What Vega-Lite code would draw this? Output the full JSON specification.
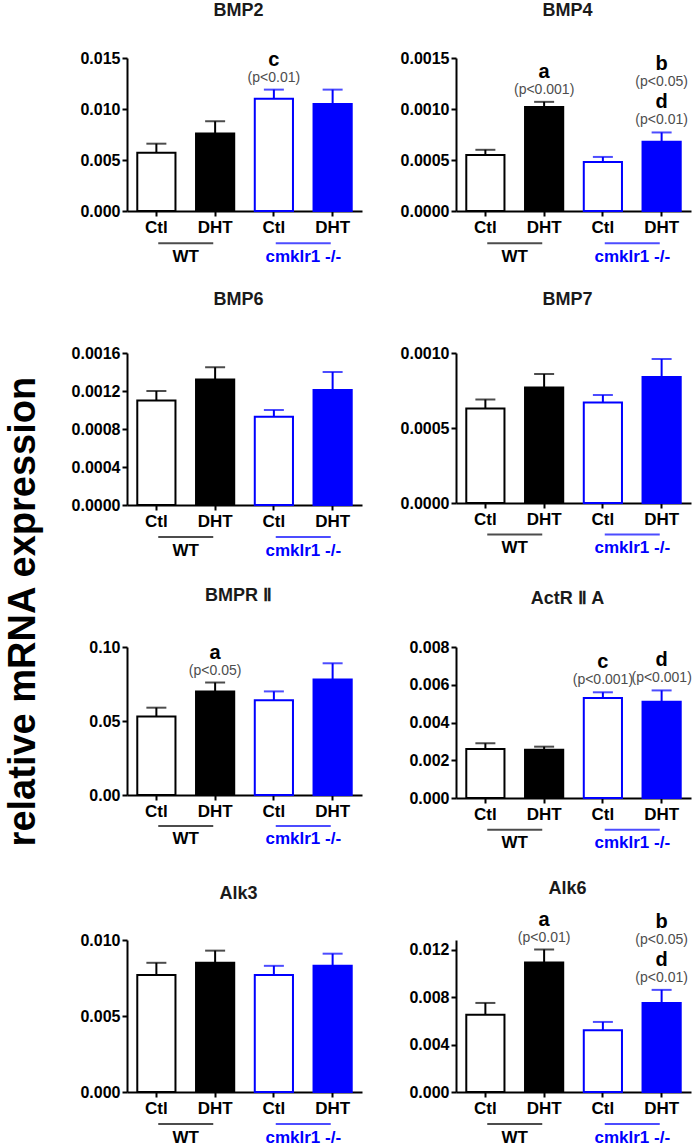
{
  "$schema": "https://vega.github.io/schema/vega-lite/v6.json",
  "padding": {"left": 5, "top": 1, "right": 2, "bottom": 2},
  "title": {"text": "relative mRNA expression", "orient": "left", "anchor": "middle", "fontSize": 38, "fontWeight": "bold", "color": "#000000", "offset": 28, "dx": -38, "frame": "bounds"},
  "columns": 2,
  "spacing": {"row": 142, "column": 94},
  "bounds": "flush",
  "datasets": {
    "bars": [
      {"gene": "BMP2", "genotype": "WT", "key": "WT Ctl", "mean": 0.0057, "hi": 0.0066},
      {"gene": "BMP2", "genotype": "WT", "key": "WT DHT", "mean": 0.0076, "hi": 0.0088},
      {"gene": "BMP2", "genotype": "KO", "key": "KO Ctl", "mean": 0.0110, "hi": 0.0119, "l1": "c", "p1": "(p<0.01)"},
      {"gene": "BMP2", "genotype": "KO", "key": "KO DHT", "mean": 0.0105, "hi": 0.0119},
      {"gene": "BMP4", "genotype": "WT", "key": "WT Ctl", "mean": 0.00055, "hi": 0.00060},
      {"gene": "BMP4", "genotype": "WT", "key": "WT DHT", "mean": 0.00102, "hi": 0.00107, "l1": "a", "p1": "(p<0.001)"},
      {"gene": "BMP4", "genotype": "KO", "key": "KO Ctl", "mean": 0.00048, "hi": 0.00053},
      {"gene": "BMP4", "genotype": "KO", "key": "KO DHT", "mean": 0.00068, "hi": 0.00077, "l1": "d", "p1": "(p<0.01)", "l2": "b", "p2": "(p<0.05)"},
      {"gene": "BMP6", "genotype": "WT", "key": "WT Ctl", "mean": 0.00110, "hi": 0.00120},
      {"gene": "BMP6", "genotype": "WT", "key": "WT DHT", "mean": 0.00132, "hi": 0.00145},
      {"gene": "BMP6", "genotype": "KO", "key": "KO Ctl", "mean": 0.00093, "hi": 0.00100},
      {"gene": "BMP6", "genotype": "KO", "key": "KO DHT", "mean": 0.00121, "hi": 0.00140},
      {"gene": "BMP7", "genotype": "WT", "key": "WT Ctl", "mean": 0.00063, "hi": 0.00069},
      {"gene": "BMP7", "genotype": "WT", "key": "WT DHT", "mean": 0.00077, "hi": 0.00086},
      {"gene": "BMP7", "genotype": "KO", "key": "KO Ctl", "mean": 0.00067, "hi": 0.00072},
      {"gene": "BMP7", "genotype": "KO", "key": "KO DHT", "mean": 0.00084, "hi": 0.00096},
      {"gene": "BMPRII", "genotype": "WT", "key": "WT Ctl", "mean": 0.053, "hi": 0.059},
      {"gene": "BMPRII", "genotype": "WT", "key": "WT DHT", "mean": 0.070, "hi": 0.076, "l1": "a", "p1": "(p<0.05)"},
      {"gene": "BMPRII", "genotype": "KO", "key": "KO Ctl", "mean": 0.064, "hi": 0.070},
      {"gene": "BMPRII", "genotype": "KO", "key": "KO DHT", "mean": 0.078, "hi": 0.089},
      {"gene": "ActRIIA", "genotype": "WT", "key": "WT Ctl", "mean": 0.0026, "hi": 0.0029},
      {"gene": "ActRIIA", "genotype": "WT", "key": "WT DHT", "mean": 0.00255, "hi": 0.00272},
      {"gene": "ActRIIA", "genotype": "KO", "key": "KO Ctl", "mean": 0.0053, "hi": 0.0056, "l1": "c", "p1": "(p<0.001)"},
      {"gene": "ActRIIA", "genotype": "KO", "key": "KO DHT", "mean": 0.0051, "hi": 0.0057, "l1": "d", "p1": "(p<0.001)"},
      {"gene": "Alk3", "genotype": "WT", "key": "WT Ctl", "mean": 0.0077, "hi": 0.0085},
      {"gene": "Alk3", "genotype": "WT", "key": "WT DHT", "mean": 0.0085, "hi": 0.0093},
      {"gene": "Alk3", "genotype": "KO", "key": "KO Ctl", "mean": 0.0077, "hi": 0.0083},
      {"gene": "Alk3", "genotype": "KO", "key": "KO DHT", "mean": 0.0083, "hi": 0.0091},
      {"gene": "Alk6", "genotype": "WT", "key": "WT Ctl", "mean": 0.0065, "hi": 0.0075},
      {"gene": "Alk6", "genotype": "WT", "key": "WT DHT", "mean": 0.0109, "hi": 0.0120, "l1": "a", "p1": "(p<0.01)"},
      {"gene": "Alk6", "genotype": "KO", "key": "KO Ctl", "mean": 0.0052, "hi": 0.0059},
      {"gene": "Alk6", "genotype": "KO", "key": "KO DHT", "mean": 0.0075, "hi": 0.0086, "l1": "d", "p1": "(p<0.01)", "l2": "b", "p2": "(p<0.05)"}
    ],
    "groups": [
      {"group": "WT"},
      {"group": "cmklr1 -/-"}
    ]
  },
  "concat": [
    {
      "width": 235, "height": 153,
      "title": {"text": "BMP2", "offset": 30},
      "resolve": {"scale": {"x": "independent", "y": "independent", "color": "independent"}},
      "layer": [
        {
          "data": {"name": "bars"},
          "transform": [{"filter": "datum.gene === 'BMP2'"}],
          "encoding": {"x": {"field": "key", "type": "nominal", "sort": ["WT Ctl", "WT DHT", "KO Ctl", "KO DHT"], "scale": {"paddingInner": 0.35, "paddingOuter": 0.175}, "axis": {"title": null, "labelExpr": "indexof(datum.label, 'DHT') >= 0 ? 'DHT' : 'Ctl'"}}},
          "layer": [
            {"mark": {"type": "bar", "strokeWidth": 2}, "encoding": {"y": {"field": "mean", "type": "quantitative", "scale": {"domain": [0, 0.015], "nice": false}, "axis": {"title": null, "values": [0, 0.005, 0.01, 0.015], "format": ".3f", "tickCount": 10}}, "fill": {"field": "key", "type": "nominal", "scale": {"domain": ["WT Ctl", "WT DHT", "KO Ctl", "KO DHT"], "range": ["#ffffff", "#000000", "#ffffff", "#0000ff"]}, "legend": null}, "stroke": {"field": "genotype", "type": "nominal", "scale": {"domain": ["WT", "KO"], "range": ["#000000", "#0000ff"]}, "legend": null}}},
            {"mark": {"type": "rule", "strokeWidth": 2}, "encoding": {"y": {"field": "mean", "type": "quantitative"}, "y2": {"field": "hi"}, "stroke": {"field": "genotype", "type": "nominal", "legend": null}}},
            {"mark": {"type": "tick", "orient": "horizontal", "size": 20, "thickness": 2}, "encoding": {"y": {"field": "hi", "type": "quantitative"}, "color": {"field": "genotype", "type": "nominal", "scale": {"domain": ["WT", "KO"], "range": ["#000000", "#0000ff"]}, "legend": null}}},
            {"transform": [{"filter": "datum.l1"}], "mark": {"type": "text", "fontSize": 20, "fontWeight": "bold", "baseline": "alphabetic", "dy": -24, "color": "#000000"}, "encoding": {"y": {"field": "hi", "type": "quantitative"}, "text": {"field": "l1"}}},
            {"transform": [{"filter": "datum.p1"}], "mark": {"type": "text", "fontSize": 14, "baseline": "alphabetic", "dy": -8, "color": "#4d4d4d"}, "encoding": {"y": {"field": "hi", "type": "quantitative"}, "text": {"field": "p1"}}}
          ]
        },
        {
          "data": {"name": "groups"},
          "encoding": {"x": {"field": "group", "type": "nominal", "sort": ["WT", "cmklr1 -/-"], "scale": {"type": "point", "padding": 0.5}, "axis": null}, "color": {"field": "group", "type": "nominal", "scale": {"domain": ["WT", "cmklr1 -/-"], "range": ["#000000", "#0000ff"]}, "legend": null}},
          "layer": [
            {"mark": {"type": "tick", "orient": "horizontal", "size": 55, "thickness": 2}, "encoding": {"y": {"datum": -0.21, "type": "quantitative", "scale": {"domain": [0, 1]}, "axis": null}}},
            {"mark": {"type": "text", "fontSize": 17, "fontWeight": "bold", "baseline": "middle"}, "encoding": {"y": {"datum": -0.3, "type": "quantitative"}, "text": {"field": "group"}, "fontStyle": {"condition": {"test": "datum.group !== 'WT'", "value": "italic"}, "value": "normal"}}}
          ]
        }
      ]
    },
    {
      "width": 235, "height": 153,
      "title": {"text": "BMP4", "offset": 30},
      "resolve": {"scale": {"x": "independent", "y": "independent", "color": "independent"}},
      "layer": [
        {
          "data": {"name": "bars"},
          "transform": [{"filter": "datum.gene === 'BMP4'"}],
          "encoding": {"x": {"field": "key", "type": "nominal", "sort": ["WT Ctl", "WT DHT", "KO Ctl", "KO DHT"], "scale": {"paddingInner": 0.35, "paddingOuter": 0.175}, "axis": {"title": null, "labelExpr": "indexof(datum.label, 'DHT') >= 0 ? 'DHT' : 'Ctl'"}}},
          "layer": [
            {"mark": {"type": "bar", "strokeWidth": 2}, "encoding": {"y": {"field": "mean", "type": "quantitative", "scale": {"domain": [0, 0.0015], "nice": false}, "axis": {"title": null, "values": [0, 0.0005, 0.001, 0.0015], "format": ".4f", "tickCount": 10}}, "fill": {"field": "key", "type": "nominal", "scale": {"domain": ["WT Ctl", "WT DHT", "KO Ctl", "KO DHT"], "range": ["#ffffff", "#000000", "#ffffff", "#0000ff"]}, "legend": null}, "stroke": {"field": "genotype", "type": "nominal", "scale": {"domain": ["WT", "KO"], "range": ["#000000", "#0000ff"]}, "legend": null}}},
            {"mark": {"type": "rule", "strokeWidth": 2}, "encoding": {"y": {"field": "mean", "type": "quantitative"}, "y2": {"field": "hi"}, "stroke": {"field": "genotype", "type": "nominal", "legend": null}}},
            {"mark": {"type": "tick", "orient": "horizontal", "size": 20, "thickness": 2}, "encoding": {"y": {"field": "hi", "type": "quantitative"}, "color": {"field": "genotype", "type": "nominal", "scale": {"domain": ["WT", "KO"], "range": ["#000000", "#0000ff"]}, "legend": null}}},
            {"transform": [{"filter": "datum.l1"}], "mark": {"type": "text", "fontSize": 20, "fontWeight": "bold", "baseline": "alphabetic", "dy": -24, "color": "#000000"}, "encoding": {"y": {"field": "hi", "type": "quantitative"}, "text": {"field": "l1"}}},
            {"transform": [{"filter": "datum.p1"}], "mark": {"type": "text", "fontSize": 14, "baseline": "alphabetic", "dy": -8, "color": "#4d4d4d"}, "encoding": {"y": {"field": "hi", "type": "quantitative"}, "text": {"field": "p1"}}},
            {"transform": [{"filter": "datum.l2"}], "mark": {"type": "text", "fontSize": 20, "fontWeight": "bold", "baseline": "alphabetic", "dy": -62, "color": "#000000"}, "encoding": {"y": {"field": "hi", "type": "quantitative"}, "text": {"field": "l2"}}},
            {"transform": [{"filter": "datum.p2"}], "mark": {"type": "text", "fontSize": 14, "baseline": "alphabetic", "dy": -46, "color": "#4d4d4d"}, "encoding": {"y": {"field": "hi", "type": "quantitative"}, "text": {"field": "p2"}}}
          ]
        },
        {
          "data": {"name": "groups"},
          "encoding": {"x": {"field": "group", "type": "nominal", "sort": ["WT", "cmklr1 -/-"], "scale": {"type": "point", "padding": 0.5}, "axis": null}, "color": {"field": "group", "type": "nominal", "scale": {"domain": ["WT", "cmklr1 -/-"], "range": ["#000000", "#0000ff"]}, "legend": null}},
          "layer": [
            {"mark": {"type": "tick", "orient": "horizontal", "size": 55, "thickness": 2}, "encoding": {"y": {"datum": -0.21, "type": "quantitative", "scale": {"domain": [0, 1]}, "axis": null}}},
            {"mark": {"type": "text", "fontSize": 17, "fontWeight": "bold", "baseline": "middle"}, "encoding": {"y": {"datum": -0.3, "type": "quantitative"}, "text": {"field": "group"}, "fontStyle": {"condition": {"test": "datum.group !== 'WT'", "value": "italic"}, "value": "normal"}}}
          ]
        }
      ]
    },
    {
      "width": 235, "height": 152,
      "title": {"text": "BMP6", "offset": 36},
      "resolve": {"scale": {"x": "independent", "y": "independent", "color": "independent"}},
      "layer": [
        {
          "data": {"name": "bars"},
          "transform": [{"filter": "datum.gene === 'BMP6'"}],
          "encoding": {"x": {"field": "key", "type": "nominal", "sort": ["WT Ctl", "WT DHT", "KO Ctl", "KO DHT"], "scale": {"paddingInner": 0.35, "paddingOuter": 0.175}, "axis": {"title": null, "labelExpr": "indexof(datum.label, 'DHT') >= 0 ? 'DHT' : 'Ctl'"}}},
          "layer": [
            {"mark": {"type": "bar", "strokeWidth": 2}, "encoding": {"y": {"field": "mean", "type": "quantitative", "scale": {"domain": [0, 0.0016], "nice": false}, "axis": {"title": null, "values": [0, 0.0004, 0.0008, 0.0012, 0.0016], "format": ".4f", "tickCount": 10}}, "fill": {"field": "key", "type": "nominal", "scale": {"domain": ["WT Ctl", "WT DHT", "KO Ctl", "KO DHT"], "range": ["#ffffff", "#000000", "#ffffff", "#0000ff"]}, "legend": null}, "stroke": {"field": "genotype", "type": "nominal", "scale": {"domain": ["WT", "KO"], "range": ["#000000", "#0000ff"]}, "legend": null}}},
            {"mark": {"type": "rule", "strokeWidth": 2}, "encoding": {"y": {"field": "mean", "type": "quantitative"}, "y2": {"field": "hi"}, "stroke": {"field": "genotype", "type": "nominal", "legend": null}}},
            {"mark": {"type": "tick", "orient": "horizontal", "size": 20, "thickness": 2}, "encoding": {"y": {"field": "hi", "type": "quantitative"}, "color": {"field": "genotype", "type": "nominal", "scale": {"domain": ["WT", "KO"], "range": ["#000000", "#0000ff"]}, "legend": null}}}
          ]
        },
        {
          "data": {"name": "groups"},
          "encoding": {"x": {"field": "group", "type": "nominal", "sort": ["WT", "cmklr1 -/-"], "scale": {"type": "point", "padding": 0.5}, "axis": null}, "color": {"field": "group", "type": "nominal", "scale": {"domain": ["WT", "cmklr1 -/-"], "range": ["#000000", "#0000ff"]}, "legend": null}},
          "layer": [
            {"mark": {"type": "tick", "orient": "horizontal", "size": 55, "thickness": 2}, "encoding": {"y": {"datum": -0.21, "type": "quantitative", "scale": {"domain": [0, 1]}, "axis": null}}},
            {"mark": {"type": "text", "fontSize": 17, "fontWeight": "bold", "baseline": "middle"}, "encoding": {"y": {"datum": -0.3, "type": "quantitative"}, "text": {"field": "group"}, "fontStyle": {"condition": {"test": "datum.group !== 'WT'", "value": "italic"}, "value": "normal"}}}
          ]
        }
      ]
    },
    {
      "width": 235, "height": 150,
      "title": {"text": "BMP7", "offset": 36},
      "resolve": {"scale": {"x": "independent", "y": "independent", "color": "independent"}},
      "layer": [
        {
          "data": {"name": "bars"},
          "transform": [{"filter": "datum.gene === 'BMP7'"}],
          "encoding": {"x": {"field": "key", "type": "nominal", "sort": ["WT Ctl", "WT DHT", "KO Ctl", "KO DHT"], "scale": {"paddingInner": 0.35, "paddingOuter": 0.175}, "axis": {"title": null, "labelExpr": "indexof(datum.label, 'DHT') >= 0 ? 'DHT' : 'Ctl'"}}},
          "layer": [
            {"mark": {"type": "bar", "strokeWidth": 2}, "encoding": {"y": {"field": "mean", "type": "quantitative", "scale": {"domain": [0, 0.001], "nice": false}, "axis": {"title": null, "values": [0, 0.0005, 0.001], "format": ".4f", "tickCount": 10}}, "fill": {"field": "key", "type": "nominal", "scale": {"domain": ["WT Ctl", "WT DHT", "KO Ctl", "KO DHT"], "range": ["#ffffff", "#000000", "#ffffff", "#0000ff"]}, "legend": null}, "stroke": {"field": "genotype", "type": "nominal", "scale": {"domain": ["WT", "KO"], "range": ["#000000", "#0000ff"]}, "legend": null}}},
            {"mark": {"type": "rule", "strokeWidth": 2}, "encoding": {"y": {"field": "mean", "type": "quantitative"}, "y2": {"field": "hi"}, "stroke": {"field": "genotype", "type": "nominal", "legend": null}}},
            {"mark": {"type": "tick", "orient": "horizontal", "size": 20, "thickness": 2}, "encoding": {"y": {"field": "hi", "type": "quantitative"}, "color": {"field": "genotype", "type": "nominal", "scale": {"domain": ["WT", "KO"], "range": ["#000000", "#0000ff"]}, "legend": null}}}
          ]
        },
        {
          "data": {"name": "groups"},
          "encoding": {"x": {"field": "group", "type": "nominal", "sort": ["WT", "cmklr1 -/-"], "scale": {"type": "point", "padding": 0.5}, "axis": null}, "color": {"field": "group", "type": "nominal", "scale": {"domain": ["WT", "cmklr1 -/-"], "range": ["#000000", "#0000ff"]}, "legend": null}},
          "layer": [
            {"mark": {"type": "tick", "orient": "horizontal", "size": 55, "thickness": 2}, "encoding": {"y": {"datum": -0.21, "type": "quantitative", "scale": {"domain": [0, 1]}, "axis": null}}},
            {"mark": {"type": "text", "fontSize": 17, "fontWeight": "bold", "baseline": "middle"}, "encoding": {"y": {"datum": -0.3, "type": "quantitative"}, "text": {"field": "group"}, "fontStyle": {"condition": {"test": "datum.group !== 'WT'", "value": "italic"}, "value": "normal"}}}
          ]
        }
      ]
    },
    {
      "width": 235, "height": 148,
      "title": {"text": "BMPR Ⅱ", "offset": 34},
      "resolve": {"scale": {"x": "independent", "y": "independent", "color": "independent"}},
      "layer": [
        {
          "data": {"name": "bars"},
          "transform": [{"filter": "datum.gene === 'BMPRII'"}],
          "encoding": {"x": {"field": "key", "type": "nominal", "sort": ["WT Ctl", "WT DHT", "KO Ctl", "KO DHT"], "scale": {"paddingInner": 0.35, "paddingOuter": 0.175}, "axis": {"title": null, "labelExpr": "indexof(datum.label, 'DHT') >= 0 ? 'DHT' : 'Ctl'"}}},
          "layer": [
            {"mark": {"type": "bar", "strokeWidth": 2}, "encoding": {"y": {"field": "mean", "type": "quantitative", "scale": {"domain": [0, 0.1], "nice": false}, "axis": {"title": null, "values": [0, 0.05, 0.1], "format": ".2f", "tickCount": 10}}, "fill": {"field": "key", "type": "nominal", "scale": {"domain": ["WT Ctl", "WT DHT", "KO Ctl", "KO DHT"], "range": ["#ffffff", "#000000", "#ffffff", "#0000ff"]}, "legend": null}, "stroke": {"field": "genotype", "type": "nominal", "scale": {"domain": ["WT", "KO"], "range": ["#000000", "#0000ff"]}, "legend": null}}},
            {"mark": {"type": "rule", "strokeWidth": 2}, "encoding": {"y": {"field": "mean", "type": "quantitative"}, "y2": {"field": "hi"}, "stroke": {"field": "genotype", "type": "nominal", "legend": null}}},
            {"mark": {"type": "tick", "orient": "horizontal", "size": 20, "thickness": 2}, "encoding": {"y": {"field": "hi", "type": "quantitative"}, "color": {"field": "genotype", "type": "nominal", "scale": {"domain": ["WT", "KO"], "range": ["#000000", "#0000ff"]}, "legend": null}}},
            {"transform": [{"filter": "datum.l1"}], "mark": {"type": "text", "fontSize": 20, "fontWeight": "bold", "baseline": "alphabetic", "dy": -24, "color": "#000000"}, "encoding": {"y": {"field": "hi", "type": "quantitative"}, "text": {"field": "l1"}}},
            {"transform": [{"filter": "datum.p1"}], "mark": {"type": "text", "fontSize": 14, "baseline": "alphabetic", "dy": -8, "color": "#4d4d4d"}, "encoding": {"y": {"field": "hi", "type": "quantitative"}, "text": {"field": "p1"}}}
          ]
        },
        {
          "data": {"name": "groups"},
          "encoding": {"x": {"field": "group", "type": "nominal", "sort": ["WT", "cmklr1 -/-"], "scale": {"type": "point", "padding": 0.5}, "axis": null}, "color": {"field": "group", "type": "nominal", "scale": {"domain": ["WT", "cmklr1 -/-"], "range": ["#000000", "#0000ff"]}, "legend": null}},
          "layer": [
            {"mark": {"type": "tick", "orient": "horizontal", "size": 55, "thickness": 2}, "encoding": {"y": {"datum": -0.21, "type": "quantitative", "scale": {"domain": [0, 1]}, "axis": null}}},
            {"mark": {"type": "text", "fontSize": 17, "fontWeight": "bold", "baseline": "middle"}, "encoding": {"y": {"datum": -0.3, "type": "quantitative"}, "text": {"field": "group"}, "fontStyle": {"condition": {"test": "datum.group !== 'WT'", "value": "italic"}, "value": "normal"}}}
          ]
        }
      ]
    },
    {
      "width": 235, "height": 151,
      "title": {"text": "ActR Ⅱ A", "offset": 31},
      "resolve": {"scale": {"x": "independent", "y": "independent", "color": "independent"}},
      "layer": [
        {
          "data": {"name": "bars"},
          "transform": [{"filter": "datum.gene === 'ActRIIA'"}],
          "encoding": {"x": {"field": "key", "type": "nominal", "sort": ["WT Ctl", "WT DHT", "KO Ctl", "KO DHT"], "scale": {"paddingInner": 0.35, "paddingOuter": 0.175}, "axis": {"title": null, "labelExpr": "indexof(datum.label, 'DHT') >= 0 ? 'DHT' : 'Ctl'"}}},
          "layer": [
            {"mark": {"type": "bar", "strokeWidth": 2}, "encoding": {"y": {"field": "mean", "type": "quantitative", "scale": {"domain": [0, 0.008], "nice": false}, "axis": {"title": null, "values": [0, 0.002, 0.004, 0.006, 0.008], "format": ".3f", "tickCount": 10}}, "fill": {"field": "key", "type": "nominal", "scale": {"domain": ["WT Ctl", "WT DHT", "KO Ctl", "KO DHT"], "range": ["#ffffff", "#000000", "#ffffff", "#0000ff"]}, "legend": null}, "stroke": {"field": "genotype", "type": "nominal", "scale": {"domain": ["WT", "KO"], "range": ["#000000", "#0000ff"]}, "legend": null}}},
            {"mark": {"type": "rule", "strokeWidth": 2}, "encoding": {"y": {"field": "mean", "type": "quantitative"}, "y2": {"field": "hi"}, "stroke": {"field": "genotype", "type": "nominal", "legend": null}}},
            {"mark": {"type": "tick", "orient": "horizontal", "size": 20, "thickness": 2}, "encoding": {"y": {"field": "hi", "type": "quantitative"}, "color": {"field": "genotype", "type": "nominal", "scale": {"domain": ["WT", "KO"], "range": ["#000000", "#0000ff"]}, "legend": null}}},
            {"transform": [{"filter": "datum.l1"}], "mark": {"type": "text", "fontSize": 20, "fontWeight": "bold", "baseline": "alphabetic", "dy": -24, "color": "#000000"}, "encoding": {"y": {"field": "hi", "type": "quantitative"}, "text": {"field": "l1"}}},
            {"transform": [{"filter": "datum.p1"}], "mark": {"type": "text", "fontSize": 14, "baseline": "alphabetic", "dy": -8, "color": "#4d4d4d"}, "encoding": {"y": {"field": "hi", "type": "quantitative"}, "text": {"field": "p1"}}}
          ]
        },
        {
          "data": {"name": "groups"},
          "encoding": {"x": {"field": "group", "type": "nominal", "sort": ["WT", "cmklr1 -/-"], "scale": {"type": "point", "padding": 0.5}, "axis": null}, "color": {"field": "group", "type": "nominal", "scale": {"domain": ["WT", "cmklr1 -/-"], "range": ["#000000", "#0000ff"]}, "legend": null}},
          "layer": [
            {"mark": {"type": "tick", "orient": "horizontal", "size": 55, "thickness": 2}, "encoding": {"y": {"datum": -0.21, "type": "quantitative", "scale": {"domain": [0, 1]}, "axis": null}}},
            {"mark": {"type": "text", "fontSize": 17, "fontWeight": "bold", "baseline": "middle"}, "encoding": {"y": {"datum": -0.3, "type": "quantitative"}, "text": {"field": "group"}, "fontStyle": {"condition": {"test": "datum.group !== 'WT'", "value": "italic"}, "value": "normal"}}}
          ]
        }
      ]
    },
    {
      "width": 235, "height": 152,
      "title": {"text": "Alk3", "offset": 29},
      "resolve": {"scale": {"x": "independent", "y": "independent", "color": "independent"}},
      "layer": [
        {
          "data": {"name": "bars"},
          "transform": [{"filter": "datum.gene === 'Alk3'"}],
          "encoding": {"x": {"field": "key", "type": "nominal", "sort": ["WT Ctl", "WT DHT", "KO Ctl", "KO DHT"], "scale": {"paddingInner": 0.35, "paddingOuter": 0.175}, "axis": {"title": null, "labelExpr": "indexof(datum.label, 'DHT') >= 0 ? 'DHT' : 'Ctl'"}}},
          "layer": [
            {"mark": {"type": "bar", "strokeWidth": 2}, "encoding": {"y": {"field": "mean", "type": "quantitative", "scale": {"domain": [0, 0.01], "nice": false}, "axis": {"title": null, "values": [0, 0.005, 0.01], "format": ".3f", "tickCount": 10}}, "fill": {"field": "key", "type": "nominal", "scale": {"domain": ["WT Ctl", "WT DHT", "KO Ctl", "KO DHT"], "range": ["#ffffff", "#000000", "#ffffff", "#0000ff"]}, "legend": null}, "stroke": {"field": "genotype", "type": "nominal", "scale": {"domain": ["WT", "KO"], "range": ["#000000", "#0000ff"]}, "legend": null}}},
            {"mark": {"type": "rule", "strokeWidth": 2}, "encoding": {"y": {"field": "mean", "type": "quantitative"}, "y2": {"field": "hi"}, "stroke": {"field": "genotype", "type": "nominal", "legend": null}}},
            {"mark": {"type": "tick", "orient": "horizontal", "size": 20, "thickness": 2}, "encoding": {"y": {"field": "hi", "type": "quantitative"}, "color": {"field": "genotype", "type": "nominal", "scale": {"domain": ["WT", "KO"], "range": ["#000000", "#0000ff"]}, "legend": null}}}
          ]
        },
        {
          "data": {"name": "groups"},
          "encoding": {"x": {"field": "group", "type": "nominal", "sort": ["WT", "cmklr1 -/-"], "scale": {"type": "point", "padding": 0.5}, "axis": null}, "color": {"field": "group", "type": "nominal", "scale": {"domain": ["WT", "cmklr1 -/-"], "range": ["#000000", "#0000ff"]}, "legend": null}},
          "layer": [
            {"mark": {"type": "tick", "orient": "horizontal", "size": 55, "thickness": 2}, "encoding": {"y": {"datum": -0.21, "type": "quantitative", "scale": {"domain": [0, 1]}, "axis": null}}},
            {"mark": {"type": "text", "fontSize": 17, "fontWeight": "bold", "baseline": "middle"}, "encoding": {"y": {"datum": -0.3, "type": "quantitative"}, "text": {"field": "group"}, "fontStyle": {"condition": {"test": "datum.group !== 'WT'", "value": "italic"}, "value": "normal"}}}
          ]
        }
      ]
    },
    {
      "width": 235, "height": 152,
      "title": {"text": "Alk6", "offset": 12},
      "resolve": {"scale": {"x": "independent", "y": "independent", "color": "independent"}},
      "layer": [
        {
          "data": {"name": "bars"},
          "transform": [{"filter": "datum.gene === 'Alk6'"}],
          "encoding": {"x": {"field": "key", "type": "nominal", "sort": ["WT Ctl", "WT DHT", "KO Ctl", "KO DHT"], "scale": {"paddingInner": 0.35, "paddingOuter": 0.175}, "axis": {"title": null, "labelExpr": "indexof(datum.label, 'DHT') >= 0 ? 'DHT' : 'Ctl'"}}},
          "layer": [
            {"mark": {"type": "bar", "strokeWidth": 2}, "encoding": {"y": {"field": "mean", "type": "quantitative", "scale": {"domain": [0, 0.0128], "nice": false}, "axis": {"title": null, "values": [0, 0.004, 0.008, 0.012], "format": ".3f", "tickCount": 10}}, "fill": {"field": "key", "type": "nominal", "scale": {"domain": ["WT Ctl", "WT DHT", "KO Ctl", "KO DHT"], "range": ["#ffffff", "#000000", "#ffffff", "#0000ff"]}, "legend": null}, "stroke": {"field": "genotype", "type": "nominal", "scale": {"domain": ["WT", "KO"], "range": ["#000000", "#0000ff"]}, "legend": null}}},
            {"mark": {"type": "rule", "strokeWidth": 2}, "encoding": {"y": {"field": "mean", "type": "quantitative"}, "y2": {"field": "hi"}, "stroke": {"field": "genotype", "type": "nominal", "legend": null}}},
            {"mark": {"type": "tick", "orient": "horizontal", "size": 20, "thickness": 2}, "encoding": {"y": {"field": "hi", "type": "quantitative"}, "color": {"field": "genotype", "type": "nominal", "scale": {"domain": ["WT", "KO"], "range": ["#000000", "#0000ff"]}, "legend": null}}},
            {"transform": [{"filter": "datum.l1"}], "mark": {"type": "text", "fontSize": 20, "fontWeight": "bold", "baseline": "alphabetic", "dy": -24, "color": "#000000"}, "encoding": {"y": {"field": "hi", "type": "quantitative"}, "text": {"field": "l1"}}},
            {"transform": [{"filter": "datum.p1"}], "mark": {"type": "text", "fontSize": 14, "baseline": "alphabetic", "dy": -8, "color": "#4d4d4d"}, "encoding": {"y": {"field": "hi", "type": "quantitative"}, "text": {"field": "p1"}}},
            {"transform": [{"filter": "datum.l2"}], "mark": {"type": "text", "fontSize": 20, "fontWeight": "bold", "baseline": "alphabetic", "dy": -62, "color": "#000000"}, "encoding": {"y": {"field": "hi", "type": "quantitative"}, "text": {"field": "l2"}}},
            {"transform": [{"filter": "datum.p2"}], "mark": {"type": "text", "fontSize": 14, "baseline": "alphabetic", "dy": -46, "color": "#4d4d4d"}, "encoding": {"y": {"field": "hi", "type": "quantitative"}, "text": {"field": "p2"}}}
          ]
        },
        {
          "data": {"name": "groups"},
          "encoding": {"x": {"field": "group", "type": "nominal", "sort": ["WT", "cmklr1 -/-"], "scale": {"type": "point", "padding": 0.5}, "axis": null}, "color": {"field": "group", "type": "nominal", "scale": {"domain": ["WT", "cmklr1 -/-"], "range": ["#000000", "#0000ff"]}, "legend": null}},
          "layer": [
            {"mark": {"type": "tick", "orient": "horizontal", "size": 55, "thickness": 2}, "encoding": {"y": {"datum": -0.21, "type": "quantitative", "scale": {"domain": [0, 1]}, "axis": null}}},
            {"mark": {"type": "text", "fontSize": 17, "fontWeight": "bold", "baseline": "middle"}, "encoding": {"y": {"datum": -0.3, "type": "quantitative"}, "text": {"field": "group"}, "fontStyle": {"condition": {"test": "datum.group !== 'WT'", "value": "italic"}, "value": "normal"}}}
          ]
        }
      ]
    }
  ],
  "config": {
    "font": "Liberation Sans",
    "view": {"stroke": null},
    "axis": {"grid": false, "domainColor": "#000000", "domainWidth": 2, "tickColor": "#000000", "tickWidth": 2, "tickSize": 5, "labelColor": "#000000", "labelFont": "Liberation Sans", "labelFontWeight": "bold"},
    "axisX": {"labelFontSize": 17, "labelPadding": 3, "labelAngle": 0},
    "axisY": {"labelFontSize": 16, "labelPadding": 2, "labelOverlap": false},
    "title": {"font": "Liberation Sans", "fontSize": 18, "fontWeight": "bold", "color": "#1a1a1a", "anchor": "middle", "frame": "group", "dx": -6}
  }
}
